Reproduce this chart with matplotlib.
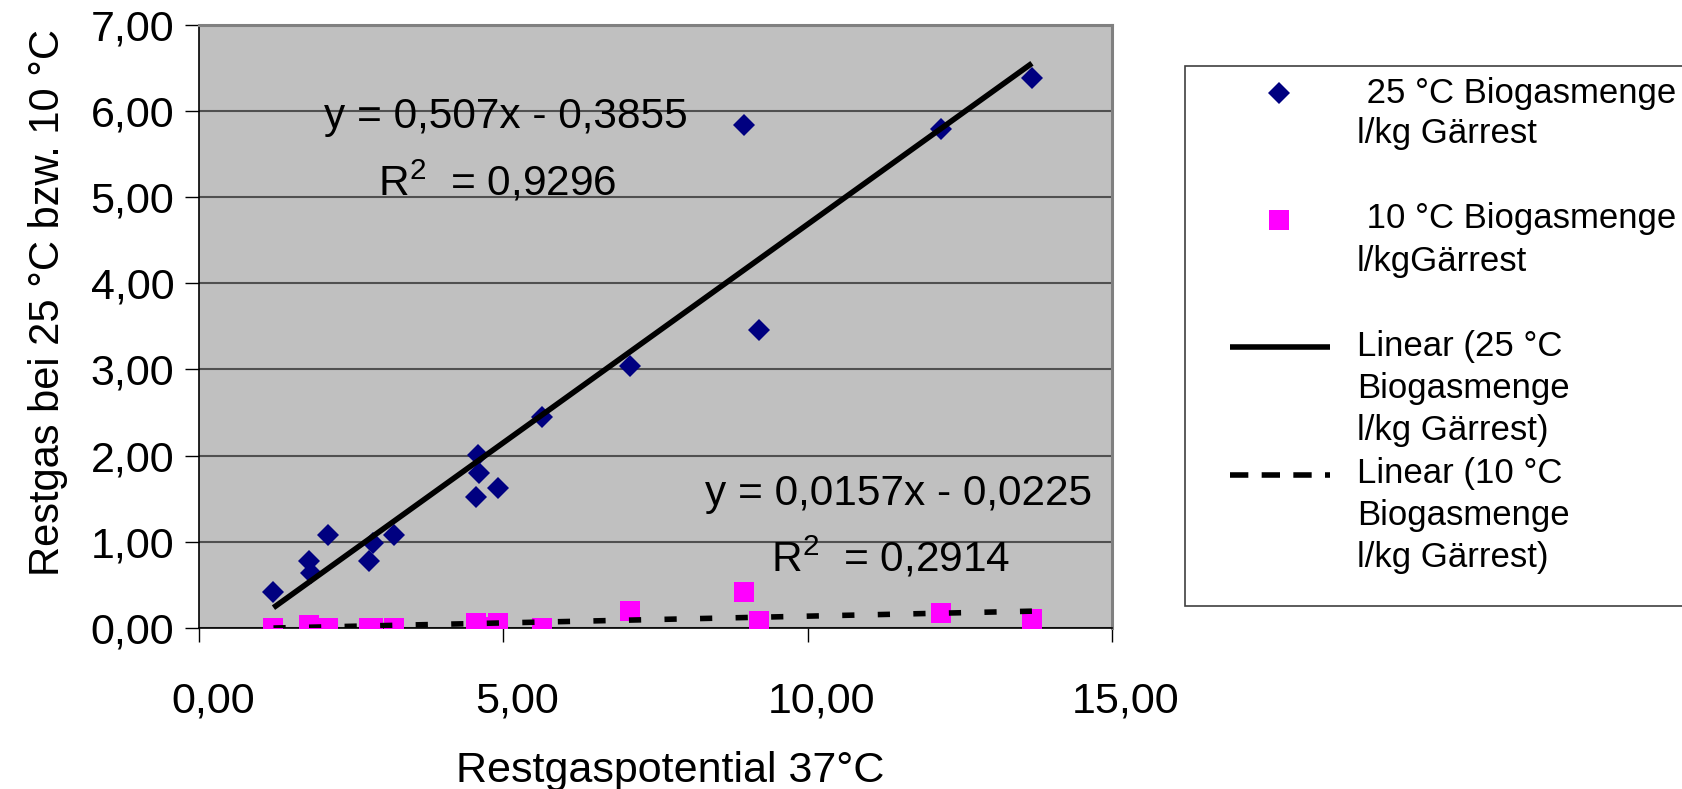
import numpy as np
import matplotlib
matplotlib.use('Agg')
import matplotlib.pyplot as plt
import matplotlib.transforms as mtransforms
from matplotlib.patches import Rectangle
from matplotlib.ticker import FuncFormatter, MultipleLocator

plt.rcParams['font.family'] = ['Liberation Sans', 'DejaVu Sans']
plt.rcParams['mathtext.fontset'] = 'custom'
plt.rcParams['mathtext.rm'] = 'Liberation Sans'

# Restgaspotential 37 °C (x-Achse)
restgas_37 = np.array([1.22, 1.81, 1.84, 2.12, 2.79, 2.86, 3.20, 4.55, 4.59,
                       4.60, 4.91, 5.64, 7.08, 8.96, 9.20, 12.20, 13.69])
# Biogasmenge l/kg Gärrest bei 25 °C und 10 °C
biogas_25 = np.array([0.41, 0.77, 0.63, 1.08, 0.77, 0.98, 1.08, 1.52, 2.01,
                      1.80, 1.62, 2.45, 3.04, 5.84, 3.46, 5.79, 6.38])
biogas_10 = np.array([0.00, 0.03, 0.00, 0.00, 0.00, 0.00, 0.00, 0.05, 0.00,
                      0.01, 0.05, 0.00, 0.20, 0.42, 0.08, 0.17, 0.10])

# lineare Trendlinien (Steigung, Achsenabschnitt, R²) wie im Excel-Diagramm
fit_25 = (0.507, -0.3855, 0.9296)
fit_10 = (0.0157, -0.0225, 0.2914)

legend_text = [" 25 °C Biogasmenge", "l/kg Gärrest",
               " 10 °C Biogasmenge", "l/kgGärrest",
               "Linear (25 °C", "Biogasmenge", "l/kg Gärrest)",
               "Linear (10 °C", "Biogasmenge", "l/kg Gärrest)"]


def komma(v, pos=None):
    return f"{v:.2f}".replace('.', ',')


def gleichung(fit):
    a, b, r2 = fit
    zeile1 = f"y = {a}x - {abs(b)}".replace('.', ',')
    zeile2 = "R$^{\\mathrm{2}}$  = " + str(r2).replace('.', ',')
    return zeile1, zeile2


fig = plt.figure(figsize=(16.83, 7.89), dpi=100)
ax = fig.add_axes([0.1184, 0.2044, 0.5421, 0.7639])
ax.set_facecolor('#c0c0c0')

ax.plot(restgas_37, biogas_25, 'D', color='#000080', ms=11, mew=0, zorder=3)
ax.plot(restgas_37, biogas_10, 's', color='#ff00ff', ms=14, mew=0, zorder=3)

xs = np.array([restgas_37.min(), restgas_37.max()])
ax.plot(xs, fit_25[0] * xs + fit_25[1], color='black', lw=4,
        solid_capstyle='butt', zorder=4)
ax.plot(xs, fit_10[0] * xs + fit_10[1], color='black', lw=4,
        dashes=(2.2, 4.2), zorder=4)

ax.set_xlim(0, 15)
ax.set_ylim(0, 7)
ax.xaxis.set_major_locator(MultipleLocator(5))
ax.yaxis.set_major_locator(MultipleLocator(1))
ax.xaxis.set_major_formatter(FuncFormatter(komma))
ax.yaxis.set_major_formatter(FuncFormatter(komma))
ax.tick_params(labelsize=31, length=10, width=1, color='black')
ax.tick_params(axis='y', pad=8)
ax.tick_params(axis='x', pad=29)
ax.grid(axis='y', color='#505050', lw=1.5)
ax.set_axisbelow(True)

for s in ['top', 'right']:
    ax.spines[s].set_color('#808080')
    ax.spines[s].set_linewidth(2.2)
for s in ['left', 'bottom']:
    ax.spines[s].set_color('black')
    ax.spines[s].set_linewidth(1.2)

# Excel setzt die x-Beschriftungen etwas nach rechts
verschub = mtransforms.ScaledTranslation(0.14, 0, fig.dpi_scale_trans)
for lbl in ax.get_xticklabels():
    lbl.set_transform(lbl.get_transform() + verschub)

fig.text(670 / 1683, 1 - 771 / 789, "Restgaspotential 37°C", fontsize=31,
         ha='center', va='center')
fig.text(48 / 1683, 1 - 303 / 789, "Restgas bei 25 °C bzw. 10 °C", fontsize=30,
         ha='center', va='center', rotation=90)

g1, g2 = gleichung(fit_25)
ax.text(5.04, 5.80, g1, fontsize=30.5, ha='center', va='baseline')
ax.text(4.90, 5.02, g2, fontsize=30.5, ha='center', va='baseline')
g1, g2 = gleichung(fit_10)
ax.text(11.50, 1.425, g1, fontsize=30.5, ha='center', va='baseline')
ax.text(11.37, 0.656, g2, fontsize=30.5, ha='center', va='baseline')

# Legende in Pixelkoordinaten der Abbildung
lax = fig.add_axes([0, 0, 1, 1])
lax.set_xlim(0, 1683)
lax.set_ylim(789, 0)
lax.axis('off')
lax.add_patch(Rectangle((1185, 66), 600, 540, facecolor='white',
                        edgecolor='#404040', lw=1.2))
lax.plot([1279], [93], 'D', color='#000080', ms=11, mew=0)
lax.plot([1279], [220], 's', color='#ff00ff', ms=14, mew=0)
lax.plot([1230, 1330], [347, 347], color='black', lw=4, solid_capstyle='butt')
lax.plot([1230, 1330], [475, 475], color='black', lw=4,
         dashes=(3.3, 2.4))
basis = [103, 143, 228, 271, 356, 398, 440, 483, 525, 567]
for txt, yb in zip(legend_text, basis):
    lax.text(1357, yb, txt, fontsize=25, ha='left', va='baseline')

fig.savefig('out.png', dpi=100)
